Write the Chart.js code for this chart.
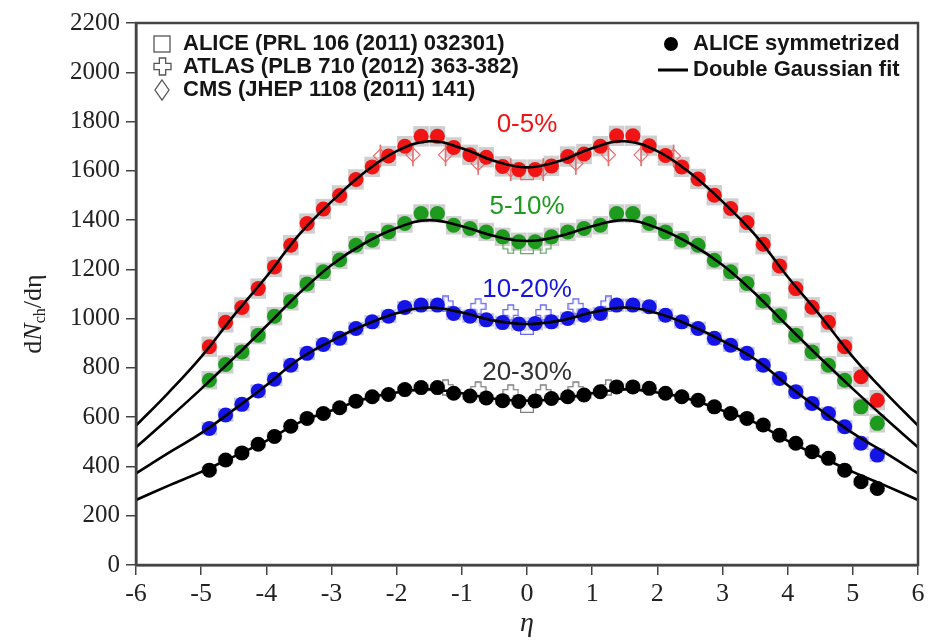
<!DOCTYPE html>
<html>
<head>
<meta charset="utf-8">
<script src="https://cdn.jsdelivr.net/npm/chart.js@4.4.1/dist/chart.umd.min.js"></script>
<style>
  html, body { margin: 0; padding: 0; background: #fff; }
</style>
</head>
<body>
<canvas id="chart" width="943" height="644"></canvas>
<script>
// pseudorapidity bins of the symmetrized ALICE points
const eta = [-4.875, -4.625, -4.375, -4.125, -3.875, -3.625, -3.375, -3.125, -2.875, -2.625,
  -2.375, -2.125, -1.875, -1.625, -1.375, -1.125, -0.875, -0.625, -0.375, -0.125,
  0.125, 0.375, 0.625, 0.875, 1.125, 1.375, 1.625, 1.875, 2.125, 2.375,
  2.625, 2.875, 3.125, 3.375, 3.625, 3.875, 4.125, 4.375, 4.625, 4.875, 5.125, 5.375];

const central0to5 = [886, 985, 1045, 1122, 1210, 1298, 1386, 1445, 1500, 1565,
  1616, 1660, 1700, 1740, 1740, 1695, 1665, 1655, 1618, 1605,
  1605, 1620, 1658, 1668, 1700, 1742, 1742, 1702, 1662, 1616,
  1567, 1501, 1447, 1390, 1302, 1214, 1122, 1046, 985, 886, 764, 669];
const central5to10 = [750, 814, 865, 933, 1010, 1070, 1141, 1190, 1238, 1298,
  1318, 1352, 1386, 1427, 1427, 1379, 1366, 1352, 1332, 1312,
  1312, 1332, 1352, 1366, 1379, 1427, 1427, 1386, 1352, 1318,
  1298, 1237, 1190, 1143, 1072, 1012, 933, 865, 811, 750, 642, 575];
const central10to20 = [554, 609, 652, 706, 754, 811, 859, 895, 920, 960,
  987, 1010, 1045, 1055, 1055, 1021, 1010, 995, 984, 978,
  980, 987, 1001, 1014, 1021, 1055, 1055, 1048, 1014, 987,
  960, 920, 892, 859, 811, 757, 703, 656, 615, 561, 494, 446];
const central20to30 = [385, 426, 455, 490, 522, 563, 595, 615, 638, 665,
  683, 692, 712, 720, 720, 697, 686, 678, 667, 664,
  666, 676, 683, 690, 703, 723, 723, 717, 697, 683,
  669, 642, 615, 595, 568, 527, 494, 460, 433, 385, 338, 311];

// systematic uncertainty (half height of the grey boxes)
const sysErr = [40, 36, 26, 16];

// double gaussian fit, read every 0.5 unit of eta
const fitEta = [-6, -5.5, -5, -4.5, -4, -3.5, -3, -2.5, -2, -1.5, -1, -0.5, 0,
  0.5, 1, 1.5, 2, 2.5, 3, 3.5, 4, 4.5, 5, 5.5, 6];
const fit0to5 = [566, 700, 845, 1012, 1170, 1340, 1475, 1592, 1680, 1720, 1692, 1640, 1614,
  1640, 1692, 1720, 1680, 1592, 1475, 1340, 1170, 1012, 845, 700, 566];
const fit5to10 = [478, 595, 715, 840, 970, 1102, 1218, 1305, 1368, 1400, 1375, 1335, 1315,
  1335, 1375, 1400, 1368, 1305, 1218, 1102, 970, 840, 715, 595, 478];
const fit10to20 = [372, 455, 535, 630, 730, 835, 910, 973, 1022, 1045, 1025, 992, 978,
  992, 1025, 1045, 1022, 973, 910, 835, 730, 630, 535, 455, 372];
const fit20to30 = [264, 322, 378, 440, 504, 578, 627, 673, 700, 713, 697, 675, 667,
  675, 697, 713, 700, 673, 627, 578, 504, 440, 378, 322, 264];

// ALICE PRL 106 (2011) 032301, |eta| < 0.5
const aliceMidValues = [1590, 1290, 962, 645];

// ATLAS PLB 710 (2012) 363-382
const atlasEta = [-1.25, -0.75, -0.25, 0.25, 0.75, 1.25];
const atlas5to10 = [null, null, 1295, 1295, null, null];
const atlas10to20 = [1060, 1050, 1025, 1025, 1050, 1060];
const atlas20to30 = [720, 712, 700, 700, 712, 720];

// CMS JHEP 1108 (2011) 141
const cmsEta = [-2.25, -1.75, -1.25, -0.75, -0.25, 0.25, 0.75, 1.25, 1.75, 2.25];
const cms0to5 = [1660, 1665, 1665, 1630, 1605, 1605, 1630, 1665, 1665, 1660];
const cmsErr = 45;

const centralityLabels = ["0-5%", "5-10%", "10-20%", "20-30%"];
const labelY = [1785, 1452, 1116, 779];

const yTicks = [0, 200, 400, 600, 800, 1000, 1200, 1400, 1600, 1800, 2000, 2200];
const xTicks = [-6, -5, -4, -3, -2, -1, 0, 1, 2, 3, 4, 5, 6];

const colors = ["#f01414", "#1e9a1e", "#1414e6", "#000000"];
const openColors = ["#f06a6a", "#6aa86a", "#6a6af0", "#808080"];

const points = [central0to5, central5to10, central10to20, central20to30];
const fits = [fit0to5, fit5to10, fit10to20, fit20to30];

function xy(xs, ys) {
  return xs.map((x, i) => ({ x: x, y: ys[i] })).filter((p) => p.y !== null);
}

// outlined plus sign used for the ATLAS markers
function crossMarker(color, size) {
  const c = document.createElement("canvas");
  c.width = size;
  c.height = size;
  const g = c.getContext("2d");
  const s = size / 3;
  g.strokeStyle = color;
  g.lineWidth = 1.3;
  g.beginPath();
  g.moveTo(s, 1);
  g.lineTo(2 * s, 1);
  g.lineTo(2 * s, s);
  g.lineTo(size - 1, s);
  g.lineTo(size - 1, 2 * s);
  g.lineTo(2 * s, 2 * s);
  g.lineTo(2 * s, size - 1);
  g.lineTo(s, size - 1);
  g.lineTo(s, 2 * s);
  g.lineTo(1, 2 * s);
  g.lineTo(1, s);
  g.lineTo(s, s);
  g.closePath();
  g.stroke();
  return c;
}

const datasets = [];

// fit curves on top
fits.forEach((f) => {
  datasets.push({
    type: "line",
    data: xy(fitEta, f),
    borderColor: "#000",
    borderWidth: 2.6,
    pointRadius: 0,
    tension: 0.4,
    fill: false,
  });
});

// ALICE symmetrized
points.forEach((p, k) => {
  datasets.push({
    type: "scatter",
    data: xy(eta, p),
    backgroundColor: colors[k],
    borderWidth: 0,
    pointRadius: 7.5,
  });
});

// ALICE mid-rapidity squares
aliceMidValues.forEach((v, k) => {
  datasets.push({
    type: "scatter",
    data: [{ x: 0, y: v }],
    pointStyle: "rect",
    pointRadius: 9,
    backgroundColor: "rgba(0,0,0,0)",
    borderColor: openColors[k],
    borderWidth: 1.3,
  });
});

// ATLAS crosses
[[atlas5to10, 1], [atlas10to20, 2], [atlas20to30, 3]].forEach(([vals, k]) => {
  datasets.push({
    type: "scatter",
    data: xy(atlasEta, vals),
    pointStyle: crossMarker(openColors[k], 17),
    pointRadius: 8,
  });
});

// CMS diamonds with their error bars
datasets.push({
  type: "scatter",
  data: xy(cmsEta, cms0to5),
  pointStyle: "rectRot",
  pointRadius: 7,
  backgroundColor: "rgba(0,0,0,0)",
  borderColor: openColors[0],
  borderWidth: 1.2,
});
datasets.push({
  type: "bar",
  data: cmsEta.map((x, i) => ({ x: x, y: [cms0to5[i] - cmsErr, cms0to5[i] + cmsErr] })),
  backgroundColor: "#e07070",
  barThickness: 1,
  grouped: false,
});

// grey systematic boxes at the bottom
points.forEach((p, k) => {
  datasets.push({
    type: "bar",
    data: eta.map((x, i) => ({ x: x, y: [p[i] - sysErr[k], p[i] + sysErr[k]] })),
    backgroundColor: k === 2 ? "#c8c8e6" : "#cfcfcf",
    barThickness: 15,
    grouped: false,
  });
});

const overlay = {
  id: "overlay",
  afterDatasetsDraw(chart) {
    const { ctx, chartArea: a, scales } = chart;
    ctx.save();

    // frame
    ctx.strokeStyle = "#444";
    ctx.lineWidth = 2.5;
    ctx.strokeRect(a.left, a.top, a.right - a.left, a.bottom - a.top);

    // centrality labels
    ctx.font = "26px 'Liberation Sans', Arial, sans-serif";
    ctx.textAlign = "center";
    ctx.textBaseline = "middle";
    centralityLabels.forEach((t, k) => {
      ctx.fillStyle = k === 3 ? "#333" : colors[k];
      ctx.fillText(t, scales.x.getPixelForValue(0), scales.y.getPixelForValue(labelY[k]));
    });

    // left legend
    ctx.font = "bold 22px 'Liberation Sans', Arial, sans-serif";
    ctx.textAlign = "left";
    ctx.fillStyle = "#151515";
    ctx.fillText("ALICE (PRL 106 (2011) 032301)", 183, 44);
    ctx.fillText("ATLAS (PLB 710 (2012) 363-382)", 183, 67);
    ctx.fillText("CMS (JHEP 1108 (2011) 141)", 183, 90);
    ctx.strokeStyle = "#555";
    ctx.lineWidth = 1.3;
    ctx.strokeRect(154, 36, 16, 16);
    ctx.drawImage(crossMarker("#555", 19), 153, 57);
    ctx.beginPath();
    ctx.moveTo(162, 80);
    ctx.lineTo(169, 90);
    ctx.lineTo(162, 100);
    ctx.lineTo(155, 90);
    ctx.closePath();
    ctx.stroke();

    // right legend
    ctx.fillText("ALICE symmetrized", 693, 44);
    ctx.fillText("Double Gaussian fit", 693, 70);
    ctx.fillStyle = "#000";
    ctx.beginPath();
    ctx.arc(671, 44, 7, 0, Math.PI * 2);
    ctx.fill();
    ctx.strokeStyle = "#000";
    ctx.lineWidth = 3;
    ctx.beginPath();
    ctx.moveTo(658, 70);
    ctx.lineTo(688, 70);
    ctx.stroke();

    // axis titles
    ctx.fillStyle = "#222";
    ctx.font = "italic 28px 'Liberation Serif', 'Times New Roman', serif";
    ctx.textAlign = "center";
    ctx.fillText("\u03b7", (a.left + a.right) / 2, 624);

    ctx.translate(34, 314);
    ctx.rotate(-Math.PI / 2);
    const parts = [
      ["d", "26px 'Liberation Serif', serif", 0],
      ["N", "italic 26px 'Liberation Serif', serif", 0],
      ["ch", "16px 'Liberation Serif', serif", 7],
      ["/d\u03b7", "26px 'Liberation Serif', serif", 0],
    ];
    let total = 0;
    parts.forEach(([t, f]) => {
      ctx.font = f;
      total += ctx.measureText(t).width;
    });
    let x = -total / 2;
    ctx.textAlign = "left";
    parts.forEach(([t, f, dy]) => {
      ctx.font = f;
      ctx.fillText(t, x, dy);
      x += ctx.measureText(t).width;
    });
    ctx.restore();
  },
};

new Chart(document.getElementById("chart"), {
  type: "scatter",
  data: { datasets: datasets },
  plugins: [overlay],
  options: {
    responsive: false,
    animation: false,
    events: [],
    layout: { padding: { top: 23, right: 25, left: 0, bottom: 0 } },
    plugins: { legend: { display: false }, tooltip: { enabled: false } },
    scales: {
      x: {
        type: "linear",
        min: -6,
        max: 6,
        offset: false,
        afterFit: (scale) => { scale.height = 79; },
        afterBuildTicks: (scale) => { scale.ticks = xTicks.map((v) => ({ value: v })); },
        grid: { offset: false, drawOnChartArea: false, drawTicks: true, tickLength: 10, color: "#444", lineWidth: 1.5 },
        border: { display: true, color: "#444", width: 2.5 },
        ticks: {
          color: "#222",
          padding: 4,
          callback: (v) => String(v),
          font: { family: "'Liberation Serif', 'Times New Roman', serif", size: 26 },
        },
      },
      y: {
        type: "linear",
        min: 0,
        max: 2200,
        afterFit: (scale) => { scale.width = 136; },
        afterBuildTicks: (scale) => { scale.ticks = yTicks.map((v) => ({ value: v })); },
        grid: { offset: false, drawOnChartArea: false, drawTicks: true, tickLength: 10, color: "#444", lineWidth: 1.5 },
        border: { display: true, color: "#444", width: 2.5 },
        ticks: {
          color: "#222",
          padding: 6,
          callback: (v) => String(v),
          font: { family: "'Liberation Serif', 'Times New Roman', serif", size: 25 },
        },
      },
    },
  },
});
</script>
</body>
</html>
